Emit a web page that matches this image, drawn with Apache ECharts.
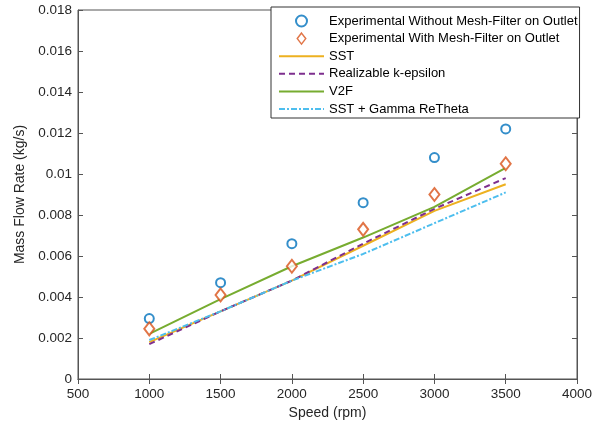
<!DOCTYPE html>
<html>
<head>
<meta charset="utf-8">
<script src="https://cdn.jsdelivr.net/npm/echarts@6/dist/echarts.min.js"></script>
<style>html,body{margin:0;padding:0;background:#fff}#c{width:608px;height:430px}</style>
</head>
<body>
<div id="c"></div>
<script>
const speeds = [1000, 1500, 2000, 2500, 3000, 3500];
const expNoFilter = [0.00295, 0.0047, 0.0066, 0.0086, 0.0108, 0.0122];
const expFilter = [0.00245, 0.0041, 0.0055, 0.0073, 0.0090, 0.0105];
const sst = [0.0018, 0.0033, 0.0048, 0.0065, 0.0082, 0.0095];
const rke = [0.0017, 0.0033, 0.0048, 0.0066, 0.0083, 0.0098];
const v2f = [0.0022, 0.0039, 0.0055, 0.0069, 0.0084, 0.0103];
const gamma = [0.0019, 0.0033, 0.0048, 0.0061, 0.0076, 0.0091];
const seriesNames = ['Experimental Without Mesh-Filter on Outlet', 'Experimental With Mesh-Filter on Outlet', 'SST', 'Realizable k-epsilon', 'V2F', 'SST + Gamma ReTheta'];
const xTicks = [500, 1000, 1500, 2000, 2500, 3000, 3500, 4000];
const yTicks = [0, 0.002, 0.004, 0.006, 0.008, 0.01, 0.012, 0.014, 0.016, 0.018];

const pts = arr => speeds.map((s, i) => [s, arr[i]]);
const font = 'Liberation Sans, Arial, Helvetica, sans-serif';
const axisCol = '#555';
const txtCol = '#262626';

const chart = echarts.init(document.getElementById('c'), null, {renderer: 'canvas'});
const lineS = (name, data, color, type) => ({
  name, type: 'line', data: pts(data), symbol: 'none', showSymbol: false,
  lineStyle: {color, width: 2, type}, itemStyle: {color}, z: 2
});
const legendData = [
  {name: seriesNames[0]},
  {name: seriesNames[1], icon: 'path://M5 0 L10 6.5 L5 13 L0 6.5 Z', itemStyle: {color: '#fff', borderColor: '#D95319', borderWidth: 1.5}},
  ...seriesNames.slice(2).map(n => ({name: n, itemStyle: {opacity: 0}}))
];
chart.setOption({
  animation: false,
  textStyle: {fontFamily: font},
  grid: {left: 78, right: 31, top: 10, bottom: 51, show: true, borderColor: axisCol, borderWidth: 1},
  xAxis: [{
    type: 'value', min: 500, max: 4000, interval: 500,
    name: 'Speed (rpm)', nameLocation: 'middle', nameGap: 26,
    nameTextStyle: {color: txtCol, fontSize: 14, fontFamily: font, verticalAlign: 'top'},
    axisLine: {show: true, lineStyle: {color: axisCol}},
    axisTick: {show: true, inside: true, length: 5, lineStyle: {color: axisCol}},
    axisLabel: {color: txtCol, fontSize: 13.5, fontFamily: font, margin: 8,
      formatter: v => String(xTicks.find(t => Math.abs(t - v) < 1e-6) ?? v)},
    splitLine: {show: false}
  }, {
    type: 'value', min: 500, max: 4000, interval: 500, position: 'top',
    axisLine: {show: true, lineStyle: {color: axisCol}},
    axisTick: {show: true, inside: true, length: 5, lineStyle: {color: axisCol}},
    axisLabel: {show: false}, splitLine: {show: false}
  }],
  yAxis: [{
    type: 'value', min: 0, max: 0.018, interval: 0.002,
    name: 'Mass Flow Rate (kg/s)', nameLocation: 'middle', nameGap: 46,
    nameTextStyle: {color: txtCol, fontSize: 14, fontFamily: font},
    axisLine: {show: true, lineStyle: {color: axisCol}},
    axisTick: {show: true, inside: true, length: 5, lineStyle: {color: axisCol}},
    axisLabel: {color: txtCol, fontSize: 13.5, fontFamily: font, margin: 6,
      formatter: v => { const t = yTicks.find(t => Math.abs(t - v) < 1e-9); return t === undefined ? '' : String(t); }},
    splitLine: {show: false}
  }, {
    type: 'value', min: 0, max: 0.018, interval: 0.002, position: 'right',
    axisLine: {show: true, lineStyle: {color: axisCol}},
    axisTick: {show: true, inside: true, length: 5, lineStyle: {color: axisCol}},
    axisLabel: {show: false}, splitLine: {show: false}
  }],
  legend: {
    orient: 'vertical', left: 271, top: 7,
    padding: [7, 2, 2, 7],
    itemWidth: 45, itemHeight: 11, itemGap: 3.6,
    symbolKeepAspect: true,
    backgroundColor: '#fff', borderColor: '#333', borderWidth: 1,
    textStyle: {color: '#000', fontSize: 13, fontFamily: font, lineHeight: 14},
    data: legendData
  },
  series: [
    {name: seriesNames[0], type: 'scatter', data: pts(expNoFilter), symbol: 'emptyCircle', symbolSize: 9,
      itemStyle: {color: '#0072BD', borderColor: '#0072BD', borderWidth: 1.5}, z: 3},
    {name: seriesNames[1], type: 'scatter', data: pts(expFilter), symbol: 'emptyDiamond', symbolSize: [10, 13],
      itemStyle: {color: '#D95319', borderColor: '#D95319', borderWidth: 1.5}, z: 3},
    lineS(seriesNames[2], sst, '#EDB120', 'solid'),
    lineS(seriesNames[3], rke, '#7E2F8E', [6, 4]),
    lineS(seriesNames[4], v2f, '#77AC30', 'solid'),
    lineS(seriesNames[5], gamma, '#4DBEEE', [6, 2, 2, 2])
  ]
});
</script>
</body>
</html>
